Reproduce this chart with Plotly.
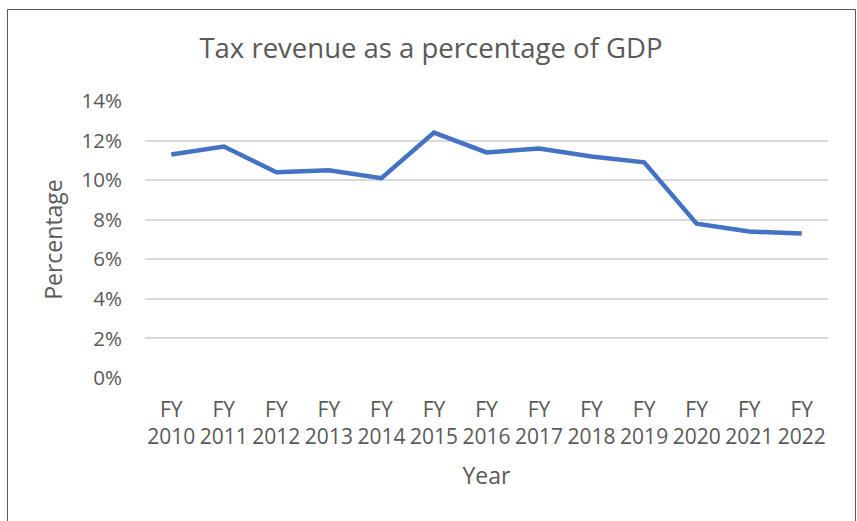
import plotly.graph_objects as go

years = ["FY<br>2010", "FY<br>2011", "FY<br>2012", "FY<br>2013", "FY<br>2014", "FY<br>2015",
         "FY<br>2016", "FY<br>2017", "FY<br>2018", "FY<br>2019", "FY<br>2020", "FY<br>2021",
         "FY<br>2022"]
tax_pct = [11.3, 11.7, 10.4, 10.5, 10.1, 12.4, 11.4, 11.6, 11.2, 10.9, 7.8, 7.4, 7.3]
y_ticks = [0, 2, 4, 6, 8, 10, 12, 14]
y_labels = [f"{v}%" for v in y_ticks]

FONT = "Open Sans"
GREY = "#595959"

W, H = 857, 521
# plot area in window pixels: x 145..828, y 101..378
L, T = 145, 101
R, B = W - 828, H - 378
pw, ph = W - L - R, H - T - B


def px_x(p):
    return (p - L) / pw


def px_y(p):
    return (H - B - p) / ph


fig = go.Figure()
fig.add_trace(
    go.Scatter(
        x=list(range(len(years))),
        y=tax_pct,
        mode="lines",
        line=dict(color="#4472C4", width=4.5),
        showlegend=False,
    )
)

fig.update_layout(
    width=W,
    height=H,
    margin=dict(l=L, r=R, t=T, b=B),
    plot_bgcolor="white",
    paper_bgcolor="white",
    font=dict(family=FONT, color=GREY, size=20),
    title=dict(
        text="Tax revenue as a percentage of GDP",
        x=px_x(431), xanchor="center", xref="paper",
        y=1 - 48 / H, yanchor="middle",
        font=dict(size=27.5, color=GREY, family=FONT),
    ),
    shapes=[
        dict(type="rect", xref="paper", yref="paper",
             x0=px_x(7.5), x1=px_x(855.5), y0=px_y(540), y1=px_y(9.5),
             line=dict(color="#595959", width=1), fillcolor="rgba(0,0,0,0)", layer="below"),
    ],
)

fig.update_xaxes(
    tickmode="array",
    tickvals=list(range(len(years))),
    ticktext=years,
    range=[-0.5, len(years) - 0.5],
    showgrid=False,
    zeroline=False,
    showline=False,
    ticks="",
    tickangle=0,
    ticklabelstandoff=17,
    tickfont=dict(size=21, color=GREY),
    title=dict(text="Year", font=dict(size=23, color=GREY), standoff=18),
)
fig.update_yaxes(
    range=[0, 14],
    tickmode="array",
    tickvals=y_ticks,
    ticktext=y_labels,
    showgrid=True,
    gridcolor="#D9D9D9",
    gridwidth=1.5,
    zeroline=False,
    showline=False,
    ticks="",
    ticklabelstandoff=22,
    tickfont=dict(size=20.5, color=GREY),
    title=dict(text="Percentage", font=dict(size=23, color=GREY), standoff=12),
)

# drop the page's default body margin so the figure fills the window exactly
fig.write_html(
    "out.html",
    config={"displayModeBar": False},
    post_script="document.body.style.margin='0';document.body.style.overflow='hidden';",
)
